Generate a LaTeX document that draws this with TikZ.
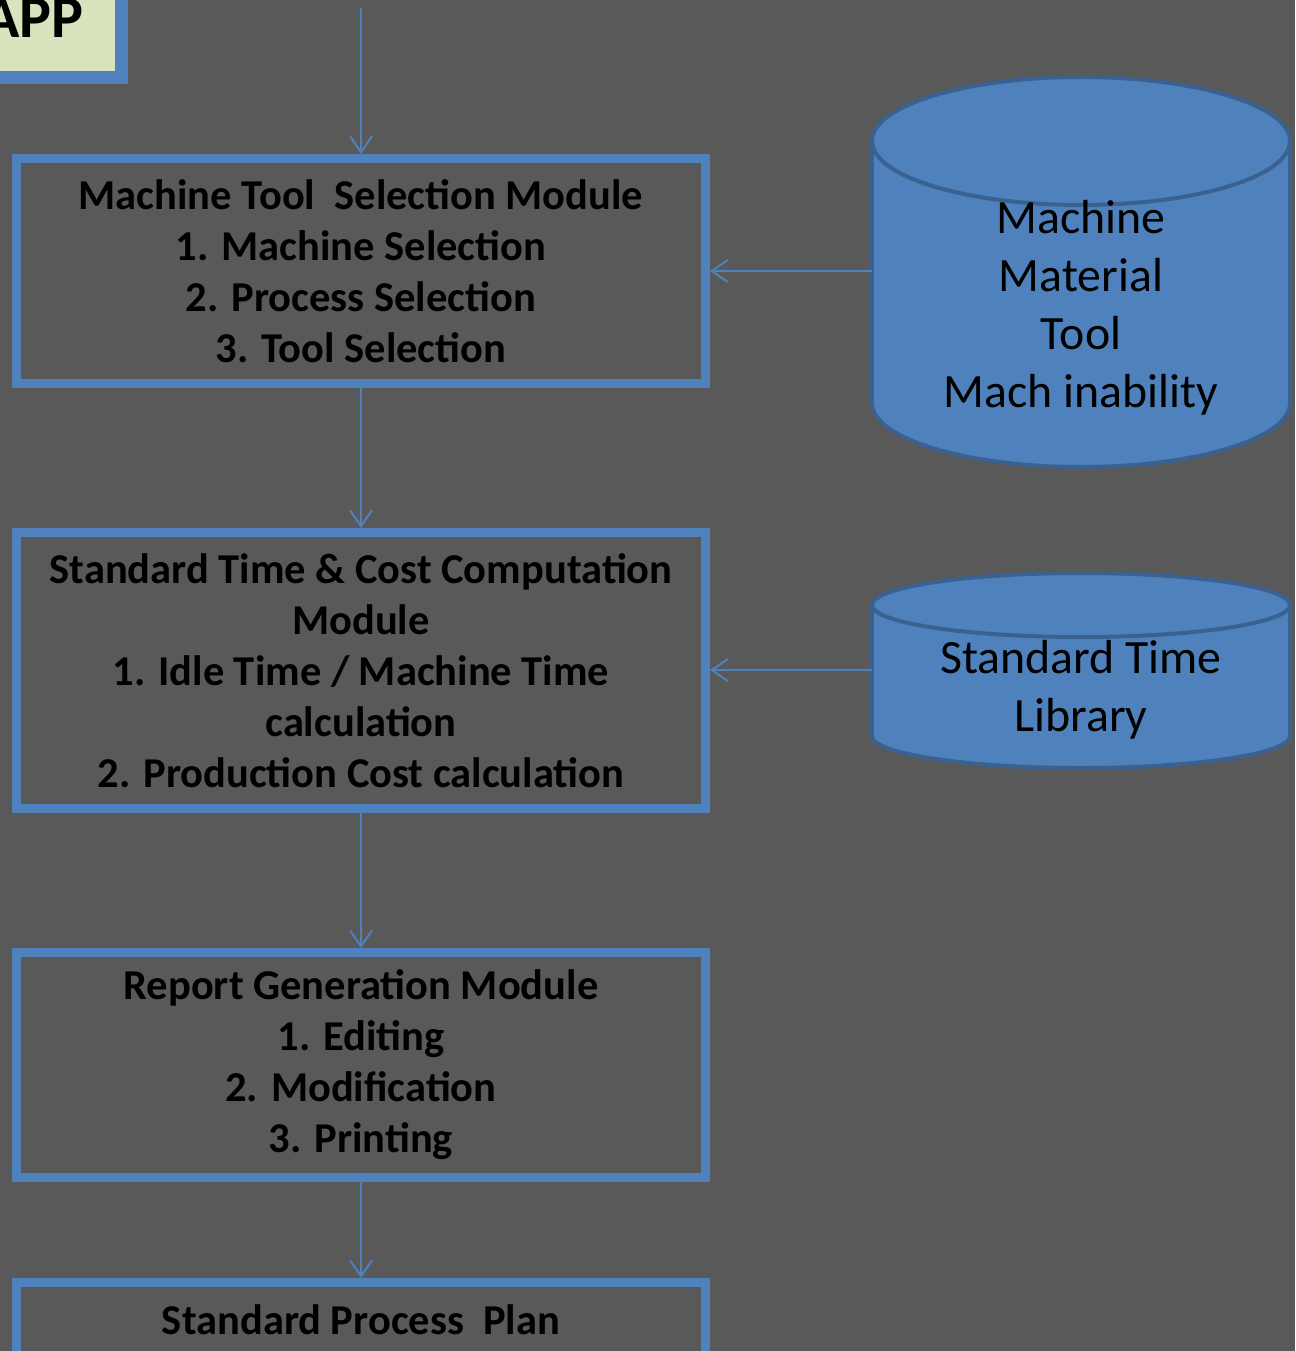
\documentclass[tikz,border=0pt]{standalone}
\usepackage{fontspec}
\setmainfont{Carlito}
\usetikzlibrary{arrows.meta}
\definecolor{slidebg}{HTML}{595959}
\definecolor{modblue}{HTML}{4F81BD}
\definecolor{dbedge}{HTML}{3A6190}
\definecolor{appgreen}{HTML}{D7E4BD}
\tikzset{
  module/.style={draw=modblue, line width=9pt, minimum width=689pt, align=center,
    font=\fontsize{42.5}{51}\selectfont\bfseries, text=black, inner sep=0pt},
  flow/.style={draw=modblue, line width=2pt, -{Straight Barb[length=16pt,width=22pt,line width=2pt]}},
  dbfill/.style={fill=modblue, draw=dbedge, line width=4pt},
  dbtext/.style={align=center, font=\fontsize{47.8}{58}\selectfont, text=black}
}
\newcommand{\dbcylinder}[5]{%
  % #1 left x, #2 right x, #3 top-ellipse centre y, #4 bottom-ellipse centre y, #5 y radius
  \pgfmathsetmacro{\cx}{(#1+#2)/2}\pgfmathsetmacro{\rx}{(#2-#1)/2}
  \path[dbfill] (\cx,#4) ellipse[x radius=\rx, y radius=#5];
  \fill[modblue] (#1,#3) rectangle (#2,#4);
  \draw[dbedge, line width=4pt] (#1,#3) -- (#1,#4) (#2,#3) -- (#2,#4);
  \path[dbfill] (\cx,#3) ellipse[x radius=\rx, y radius=#5];
}
\begin{document}
\begin{tikzpicture}[x=1pt,y=-1pt]
  \fill[slidebg] (0,0) rectangle (1295,1351);
  \useasboundingbox (0,0) rectangle (1295,1351);

  % title tab in the corner
  \draw[fill=appgreen, draw=modblue, line width=13pt] (-60,-60) rectangle (121.5,77.5);
  \node[anchor=base east, font=\fontsize{60}{60}\selectfont\bfseries, text=black, inner sep=0pt] (app) at (84,38) {APP};

  % process modules
  \node[module, minimum height=225pt] (sel) at (361,271)
    {Machine Tool\ \ Selection Module\\ 1. Machine Selection\\ 2. Process Selection\\ 3. Tool Selection};
  \node[module, minimum height=276pt] (cost) at (361,670.5)
    {Standard Time \& Cost Computation\\ Module\\ 1. Idle Time / Machine Time\\ calculation\\ 2. Production Cost calculation};
  \node[module, minimum height=225pt] (rep) at (361,1065)
    {Report Generation Module\\ 1. Editing\\ 2. Modification\\ 3. Printing};
  \node[module, minimum height=77pt] (plan) at (361,1321)
    {\raisebox{2pt}{Standard Process\ \ Plan}};

  % data stores
  \dbcylinder{872}{1290}{141}{403}{64}
  \node[dbtext] (matdb) at (1081,308) {Machine\\ Material\\ Tool\\ Mach inability};
  \dbcylinder{872}{1290}{605}{736}{32}
  \node[dbtext] (timedb) at (1081,690) {Standard Time\\ Library};

  \coordinate (entry) at (361,8);
  \coordinate (matout) at (872,271);
  \coordinate (timeout) at (872,670);

  \draw[flow] (entry) -- (sel.north);
  \draw[flow] (sel.south) -- (cost.north);
  \draw[flow] (cost.south) -- (rep.north);
  \draw[flow] (rep.south) -- (plan.north);
  \draw[flow] (matout) -- (sel.east |- matout);
  \draw[flow] (timeout) -- (cost.east |- timeout);
\end{tikzpicture}
\end{document}
